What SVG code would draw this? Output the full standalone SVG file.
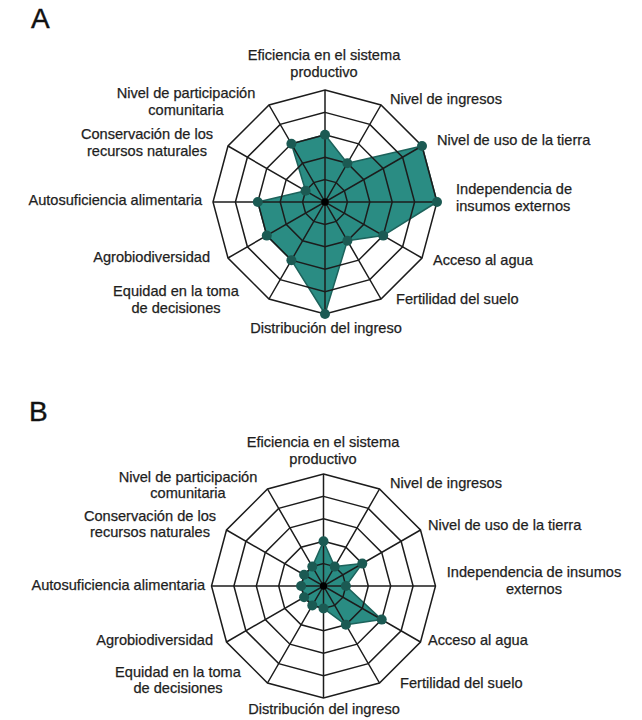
<svg xmlns="http://www.w3.org/2000/svg" xmlns:xlink="http://www.w3.org/1999/xlink" width="642" height="720" viewBox="0 0 642 720">
<style>
.lbl{font-family:"Liberation Sans",Arial,sans-serif;font-size:14.6px;fill:#1e1e1e;stroke:#1e1e1e;stroke-width:0.25}
.mid{text-anchor:middle}
.end{text-anchor:end}
.big{font-family:"Liberation Sans",Arial,sans-serif;font-size:28px;fill:#111;stroke:#111;stroke-width:0.4}
.grid{fill:none;stroke:#1c1c1c;stroke-width:1.5;stroke-linejoin:miter}
.area{fill:#2a8c83;stroke:#1d625b;stroke-width:1.5;stroke-linejoin:round}
.dot{fill:#1b5a53}
</style>
<defs>
<g id="web">
<polygon class="grid" points="0,-112 56,-97 97,-56 112,0 97,56 56,97 0,112 -56,97 -97,56 -112,0 -97,-56 -56,-97"/>
<polygon class="grid" points="0,-89.6 44.8,-77.6 77.6,-44.8 89.6,0 77.6,44.8 44.8,77.6 0,89.6 -44.8,77.6 -77.6,44.8 -89.6,0 -77.6,-44.8 -44.8,-77.6"/>
<polygon class="grid" points="0,-67.2 33.6,-58.2 58.2,-33.6 67.2,0 58.2,33.6 33.6,58.2 0,67.2 -33.6,58.2 -58.2,33.6 -67.2,0 -58.2,-33.6 -33.6,-58.2"/>
<polygon class="grid" points="0,-44.8 22.4,-38.8 38.8,-22.4 44.8,0 38.8,22.4 22.4,38.8 0,44.8 -22.4,38.8 -38.8,22.4 -44.8,0 -38.8,-22.4 -22.4,-38.8"/>
<polygon class="grid" points="0,-22.4 11.2,-19.4 19.4,-11.2 22.4,0 19.4,11.2 11.2,19.4 0,22.4 -11.2,19.4 -19.4,11.2 -22.4,0 -19.4,-11.2 -11.2,-19.4"/>
<path class="grid" d="M0,-112V112M-112,0H112M56,-97L-56,97M97,-56L-97,56M97,56L-97,-56M56,97L-56,-97"/>
<circle r="3.5" fill="#000"/>
</g>
</defs>

<g id="chartA">
<text class="big" x="31" y="28">A</text>
<g id="dataA" transform="translate(325,202)">
<polygon class="area" points="0,-67.2 22.4,-38.8 97,-56 112,0 58.2,33.6 22.4,38.8 0,112 -33.6,58.2 -58.2,33.6 -67.2,0 -19.4,-11.2 -33.6,-58.2"/>
</g>
<g id="gridA"><use xlink:href="#web" href="#web" transform="translate(325,202)"/></g>
<g id="dotsA" transform="translate(325,202)">
<circle class="dot" cx="0" cy="-67.2" r="5"/><circle class="dot" cx="22.4" cy="-38.8" r="5"/><circle class="dot" cx="97" cy="-56" r="5"/><circle class="dot" cx="112" cy="0" r="5"/><circle class="dot" cx="58.2" cy="33.6" r="5"/><circle class="dot" cx="22.4" cy="38.8" r="5"/><circle class="dot" cx="0" cy="112" r="5"/><circle class="dot" cx="-33.6" cy="58.2" r="5"/><circle class="dot" cx="-58.2" cy="33.6" r="5"/><circle class="dot" cx="-67.2" cy="0" r="5"/><circle class="dot" cx="-19.4" cy="-11.2" r="5"/><circle class="dot" cx="-33.6" cy="-58.2" r="5"/>
<circle r="3.5" fill="#000"/>
</g>
<g id="labelsA">
<g id="A-eficiencia"><text class="lbl mid" x="324" y="60.3">Eficiencia en el sistema</text><text class="lbl mid" x="324" y="76.7">productivo</text></g>
<g id="A-ingresos"><text class="lbl" x="390" y="104">Nivel de ingresos</text></g>
<g id="A-usotierra"><text class="lbl" x="437" y="145">Nivel de uso de la tierra</text></g>
<g id="A-independencia"><text class="lbl" x="456" y="194.3">Independencia de</text><text class="lbl" x="456" y="210.7">insumos externos</text></g>
<g id="A-agua"><text class="lbl" x="433" y="265">Acceso al agua</text></g>
<g id="A-fertilidad"><text class="lbl" x="396" y="304">Fertilidad del suelo</text></g>
<g id="A-distribucion"><text class="lbl mid" x="326" y="333">Distribución del ingreso</text></g>
<g id="A-equidad"><text class="lbl mid" x="176" y="296.3">Equidad en la toma</text><text class="lbl mid" x="176" y="312.7">de decisiones</text></g>
<g id="A-agrobio"><text class="lbl end" x="210" y="262">Agrobiodiversidad</text></g>
<g id="A-autosuf"><text class="lbl end" x="202" y="205">Autosuficiencia alimentaria</text></g>
<g id="A-conservacion"><text class="lbl mid" x="147" y="139.3">Conservación de los</text><text class="lbl mid" x="147" y="155.7">recursos naturales</text></g>
<g id="A-participacion"><text class="lbl mid" x="186" y="98.3">Nivel de participación</text><text class="lbl mid" x="186" y="114.7">comunitaria</text></g>
</g>
</g>

<g id="chartB">
<text class="big" x="29" y="421">B</text>
<g id="dataB" transform="translate(323.5,586)">
<polygon class="area" points="0,-44.8 11.2,-19.4 38.8,-22.4 22.4,0 58.2,33.6 22.4,38.8 0,22.4 -11.2,19.4 -19.4,11.2 -22.4,0 -19.4,-11.2 -11.2,-19.4"/>
</g>
<g id="gridB"><use xlink:href="#web" href="#web" transform="translate(323.5,586)"/></g>
<g id="dotsB" transform="translate(323.5,586)">
<circle class="dot" cx="0" cy="-44.8" r="5"/><circle class="dot" cx="11.2" cy="-19.4" r="5"/><circle class="dot" cx="38.8" cy="-22.4" r="5"/><circle class="dot" cx="22.4" cy="0" r="5"/><circle class="dot" cx="58.2" cy="33.6" r="5"/><circle class="dot" cx="22.4" cy="38.8" r="5"/><circle class="dot" cx="0" cy="22.4" r="5"/><circle class="dot" cx="-11.2" cy="19.4" r="5"/><circle class="dot" cx="-19.4" cy="11.2" r="5"/><circle class="dot" cx="-22.4" cy="0" r="5"/><circle class="dot" cx="-19.4" cy="-11.2" r="5"/><circle class="dot" cx="-11.2" cy="-19.4" r="5"/>
<circle r="3.5" fill="#000"/>
</g>
<g id="labelsB">
<g id="B-eficiencia"><text class="lbl mid" x="323" y="447.3">Eficiencia en el sistema</text><text class="lbl mid" x="323" y="463.7">productivo</text></g>
<g id="B-ingresos"><text class="lbl" x="390" y="488">Nivel de ingresos</text></g>
<g id="B-usotierra"><text class="lbl" x="428" y="530">Nivel de uso de la tierra</text></g>
<g id="B-independencia"><text class="lbl mid" x="534" y="577.3">Independencia de insumos</text><text class="lbl mid" x="534" y="593.7">externos</text></g>
<g id="B-agua"><text class="lbl" x="428" y="645">Acceso al agua</text></g>
<g id="B-fertilidad"><text class="lbl" x="400" y="688">Fertilidad del suelo</text></g>
<g id="B-distribucion"><text class="lbl mid" x="324" y="714">Distribución del ingreso</text></g>
<g id="B-equidad"><text class="lbl mid" x="178" y="676.8">Equidad en la toma</text><text class="lbl mid" x="178" y="693.2">de decisiones</text></g>
<g id="B-agrobio"><text class="lbl end" x="213" y="645">Agrobiodiversidad</text></g>
<g id="B-autosuf"><text class="lbl end" x="205" y="590">Autosuficiencia alimentaria</text></g>
<g id="B-conservacion"><text class="lbl mid" x="150" y="520.8">Conservación de los</text><text class="lbl mid" x="150" y="537.2">recursos naturales</text></g>
<g id="B-participacion"><text class="lbl mid" x="188" y="481.8">Nivel de participación</text><text class="lbl mid" x="188" y="498.2">comunitaria</text></g>
</g>
</g>
</svg>
